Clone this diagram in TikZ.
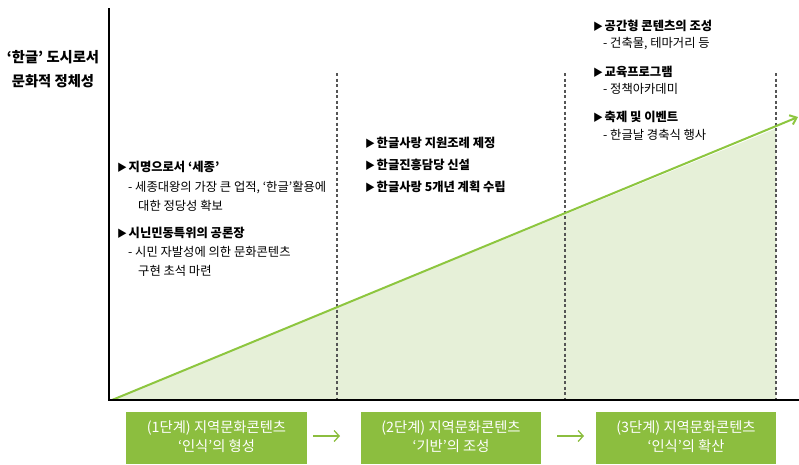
\documentclass[tikz,border=0pt]{standalone}
\usepackage{fontspec}
\setmainfont{Noto Sans CJK KR}
\usetikzlibrary{arrows.meta}
\definecolor{lgreen}{HTML}{8DC63F}
\definecolor{lfill}{HTML}{E6F0D8}
\definecolor{boxgreen}{HTML}{8CBE3F}
\definecolor{dashgray}{HTML}{555555}
\newcommand{\tri}{{\fontsize{10}{10}\selectfont ▶}\hspace{1.5pt}}
\tikzset{
  txt/.style={anchor=west, inner sep=0pt, font=\fontsize{12.3}{14}\selectfont, text=black},
  hd/.style={txt, font=\fontsize{12.3}{14}\selectfont\bfseries},
  stagebox/.style={fill=boxgreen, draw=none},
  boxtxt/.style={inner sep=0pt, text=white, font=\fontsize{14.3}{16}\selectfont},
  guide/.style={dashgray, line width=1.2pt, dash pattern=on 3pt off 2.5pt},
  axis/.style={black, line width=2pt},
  steparrow/.style={boxgreen, line width=1.3pt, -{Straight Barb[length=5pt,width=11pt]}},
}
\begin{document}
\begin{tikzpicture}[x=1pt,y=-1pt]
\useasboundingbox (0,0) rectangle (799,464);
% fill under line
\fill[lfill] (110,400) -- (776,128.5) -- (776,400) -- cycle;
% guides
\coordinate (g1t) at (337,73); \coordinate (g1b) at (337,400);
\coordinate (g2t) at (565,73); \coordinate (g2b) at (565,400);
\coordinate (g3t) at (776,73); \coordinate (g3b) at (776,400);
\draw[guide] (g1t) -- (g1b);
\draw[guide] (g2t) -- (g2b);
\draw[guide] (g3t) -- (g3b);
% green trend line
\coordinate (ls) at (112,400);
\coordinate (le) at (798,117);
\draw[lgreen, line width=2pt, -{Straight Barb[length=6pt,width=10pt]}] (ls) -- (le);
% axes
\coordinate (o) at (109,400);
\coordinate (yt) at (109,8);
\coordinate (xr) at (799,400);
\draw[axis] (yt) -- (o) -- (xr);
% left label
\node[inner sep=0pt, font=\fontsize{14.3}{16}\selectfont\bfseries] (ylab1) at (53,57) {‘한글’ 도시로서};
\node[inner sep=0pt, font=\fontsize{14.3}{16}\selectfont\bfseries] (ylab2) at (53,81) {문화적 정체성};
% block 1
\node[hd] (a1) at (117,167) {\tri 지명으로서 ‘세종’};
\node[txt] (a2) at (128,188) {- 세종대왕의 가장 큰 업적, ‘한글’활용에};
\node[txt] (a3) at (138,206) {대한 정당성 확보};
\node[hd] (a4) at (117,233) {\tri 시닌민동특위의 공론장};
\node[txt] (a5) at (128,252) {- 시민 자발성에 의한 문화콘텐츠};
\node[txt] (a6) at (138,271) {구현 초석 마련};
% block 2
\node[hd] (b1) at (365,143) {\tri 한글사랑 지원조례 제정};
\node[hd] (b2) at (365,165) {\tri 한글진흥담당 신설};
\node[hd] (b3) at (365,187) {\tri 한글사랑 5개년 계획 수립};
% block 3
\node[hd] (c1) at (593,26) {\tri 공간형 콘텐츠의 조성};
\node[txt] (c2) at (603,44) {- 건축물, 테마거리 등};
\node[hd] (c3) at (593,72) {\tri 교육프로그램};
\node[txt] (c4) at (603,89) {- 정책아카데미};
\node[hd] (c5) at (593,117) {\tri 축제 및 이벤트};
\node[txt] (c6) at (603,135) {- 한글날 경축식 행사};
% stage boxes
\fill[stagebox] (126,412) rectangle (307,464);
\fill[stagebox] (361,412) rectangle (541,464);
\fill[stagebox] (596,412) rectangle (776,464);
\node[boxtxt] (s1a) at (216.5,428) {(1단계) 지역문화콘텐츠};
\node[boxtxt] (s1b) at (216.5,446) {‘인식’의 형성};
\node[boxtxt] (s2a) at (451,428) {(2단계) 지역문화콘텐츠};
\node[boxtxt] (s2b) at (451,446) {‘기반’의 조성};
\node[boxtxt] (s3a) at (686,428) {(3단계) 지역문화콘텐츠};
\node[boxtxt] (s3b) at (686,446) {‘인식’의 확산};
% step arrows
\coordinate (p1s) at (313,436); \coordinate (p1e) at (340,436);
\coordinate (p2s) at (557,436); \coordinate (p2e) at (584,436);
\draw[steparrow] (p1s) -- (p1e);
\draw[steparrow] (p2s) -- (p2e);
\end{tikzpicture}
\end{document}
